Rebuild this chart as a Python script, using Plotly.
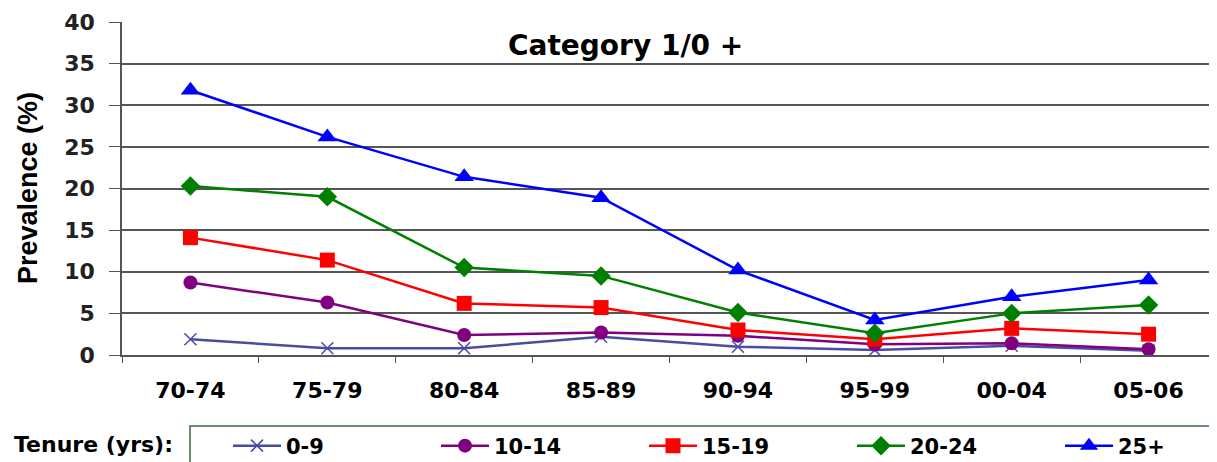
import plotly.graph_objects as go

periods = ["70-74", "75-79", "80-84", "85-89", "90-94", "95-99", "00-04", "05-06"]
tenure_0_9 = [1.9, 0.8, 0.8, 2.2, 1.0, 0.6, 1.1, 0.5]
tenure_10_14 = [8.7, 6.3, 2.4, 2.7, 2.3, 1.3, 1.4, 0.7]
tenure_15_19 = [14.1, 11.4, 6.2, 5.7, 3.0, 1.9, 3.2, 2.5]
tenure_20_24 = [20.3, 19.0, 10.5, 9.5, 5.1, 2.6, 5.0, 6.0]
tenure_25_plus = [31.8, 26.2, 21.4, 18.9, 10.2, 4.2, 7.0, 9.0]
series_names = ["0-9", "10-14", "15-19", "20-24", "25+"]
y_ticks = [0, 5, 10, 15, 20, 25, 30, 35, 40]

# page body has an 8px margin: work in window pixels, convert to figure pixels
OFF = 8
W, H = 1217 - OFF, 462 - OFF
L, T = 122 - OFF, 22 - OFF
AXIS_Y = 355 - OFF
R = 0
B = H - AXIS_Y
PW, PH = W - L - R, H - T - B

def px_x(p):  # window px -> paper x
    return (p - OFF - L) / PW

def px_y(p):  # window px -> paper y
    return (AXIS_Y - (p - OFF)) / PH

WIDE = "DejaVu Sans, Verdana, sans-serif"
ARIAL = "Liberation Sans, Arial, sans-serif"

styles = [
    dict(color="#4B4BA3", symbol="x-thin", size=12),
    dict(color="#800080", symbol="circle", size=14),
    dict(color="#FF0000", symbol="square", size=15),
    dict(color="#008000", symbol="diamond", size=15),
    dict(color="#0000FF", symbol="triangle-up", size=17),
]
data = [tenure_0_9, tenure_10_14, tenure_15_19, tenure_20_24, tenure_25_plus]

fig = go.Figure()
for name, vals, st in zip(series_names, data, styles):
    marker = dict(symbol=st["symbol"], size=st["size"], color=st["color"])
    if st["symbol"] == "x-thin":
        marker["line"] = dict(color=st["color"], width=1.5)
    fig.add_trace(go.Scatter(
        x=periods, y=vals, name=name, mode="lines+markers",
        line=dict(color=st["color"], width=2.5),
        marker=marker,
    ))

fig.update_layout(
    width=W, height=H,
    margin=dict(l=L, r=R, t=T, b=B, autoexpand=False, pad=0),
    plot_bgcolor="white", paper_bgcolor="white",
    showlegend=True,
    legend=dict(
        orientation="h", x=px_x(228), y=px_y(446), xanchor="left", yanchor="middle",
        xref="paper", yref="paper",
        entrywidth=145, entrywidthmode="pixels", itemwidth=48,
        font=dict(family=WIDE, size=21, color="black", weight="bold"),
        bgcolor="rgba(0,0,0,0)", borderwidth=0,
    ),
    xaxis=dict(
        type="category", range=[-0.5, 7.5],
        showline=True, linecolor="#555555", linewidth=1.5,
        ticks="outside", tickson="boundaries", ticklen=6, tickcolor="#555555",
        showgrid=False, zeroline=False,
        tickfont=dict(family=WIDE, size=22, color="black", weight="bold"),
        ticklabelstandoff=15,
    ),
    yaxis=dict(
        range=[0, 40], tickvals=y_ticks,
        showline=True, linecolor="#555555", linewidth=1.5,
        ticks="outside", ticklen=11, tickcolor="#555555",
        showgrid=True, gridcolor="#555555", gridwidth=1.5, zeroline=False,
        tickfont=dict(family=WIDE, size=22, color="#222222", weight="bold"),
        ticklabelstandoff=10,
    ),
    annotations=[
        dict(text="Category 1/0 +", x=px_x(625), y=px_y(45), xref="paper", yref="paper",
             xanchor="center", yanchor="middle", showarrow=False,
             font=dict(family=WIDE, size=28, color="black", weight="bold")),
        dict(text="Prevalence (%)", x=px_x(28), y=px_y(188), xref="paper", yref="paper",
             xanchor="center", yanchor="middle", textangle=-90, showarrow=False,
             font=dict(family=ARIAL, size=27, color="black", weight="bold")),
        dict(text="Tenure (yrs):", x=px_x(12), y=px_y(444), xref="paper", yref="paper",
             xanchor="left", yanchor="middle", showarrow=False,
             font=dict(family=WIDE, size=22, color="black", weight="bold")),
    ],
    shapes=[
        dict(type="rect", xref="paper", yref="paper",
             x0=px_x(190), x1=px_x(1210), y0=px_y(426), y1=px_y(480),
             line=dict(color="#3A6B3A", width=1.5), fillcolor="rgba(0,0,0,0)"),
    ],
)

fig.write_html("out.html")
